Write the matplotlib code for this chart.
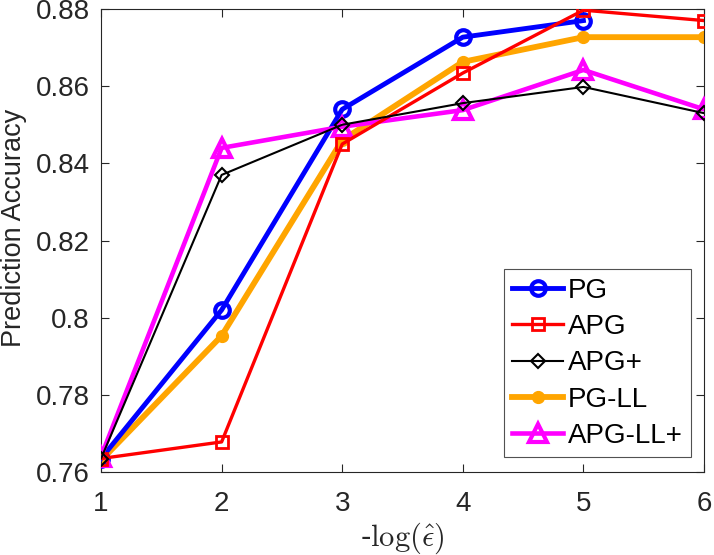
import matplotlib
matplotlib.use("Agg")
import matplotlib.pyplot as plt

x = [1, 2, 3, 4, 5, 6]
pg = [0.7635, 0.802, 0.854, 0.8727, 0.8770]
apg = [0.7635, 0.7678, 0.845, 0.8634, 0.8797, 0.8770]
apg_plus = [0.7635, 0.837, 0.850, 0.8556, 0.8598, 0.853]
pg_ll = [0.763, 0.7953, 0.846, 0.8663, 0.8727, 0.8727]
apg_ll_plus = [0.764, 0.844, 0.8495, 0.8538, 0.8642, 0.854]
yticks = [0.76, 0.78, 0.80, 0.82, 0.84, 0.86, 0.88]
ytick_labels = ['0.76', '0.78', '0.8', '0.82', '0.84', '0.86', '0.88']

plt.rcParams['font.family'] = ['Liberation Sans', 'DejaVu Sans']
plt.rcParams['mathtext.fontset'] = 'cm'

fig = plt.figure(figsize=(7.14, 5.55), dpi=100)
ax = fig.add_axes([0.1415, 0.1495, 0.8445, 0.8343])

ax.plot(x[:len(pg)], pg, color='blue', lw=3.5, marker='o', ms=10.5, mfc='none', mew=3, label='PG', zorder=3)
ax.plot(x, apg, color='red', lw=2.4, marker='s', ms=8, mfc='none', mew=2, label='APG', zorder=4)
ax.plot(x, apg_plus, color='black', lw=1.5, marker='D', ms=7, mfc='none', mew=1.5, label='APG+', zorder=5)
ax.plot(x, pg_ll, color='#FFA500', lw=4.2, marker='o', ms=8.5, mfc='#FFA500', mec='#FFA500', label='PG-LL', zorder=2)
ax.plot(x, apg_ll_plus, color='magenta', lw=3.3, marker='^', ms=12.5, mfc='none', mew=3, label='APG-LL+', zorder=3)

ax.set_xlim(1, 6)
ax.set_ylim(0.76, 0.88)
ax.set_xticks(x)
ax.set_yticks(yticks)
ax.set_yticklabels(ytick_labels)
ax.tick_params(direction='in', top=True, right=True, labelsize=20, length=6, width=0.8,
               color='#262626', labelcolor='#262626')
ax.tick_params(axis='x', pad=14)
ax.tick_params(axis='y', pad=8)
for s in ax.spines.values():
    s.set_color('#262626')
    s.set_linewidth(0.8)
ax.set_ylabel('Prediction Accuracy', fontsize=19.5, color='#262626')
ax.yaxis.set_label_coords(-0.145, 0.527)
ax.yaxis.label.set_verticalalignment('center')
ax.set_xlabel(r'-$\log(\hat{\epsilon})$', fontsize=22, family='serif', color='#262626')
ax.xaxis.set_label_coords(0.5, -0.1425)
ax.xaxis.label.set_verticalalignment('center')

leg = ax.legend(loc='lower right', fontsize=20, frameon=True, fancybox=False,
                edgecolor='#262626', borderpad=0.3, labelspacing=0.37, handlelength=1.85,
                handletextpad=0.15, borderaxespad=0, bbox_to_anchor=(0.978, 0.032))
leg.get_frame().set_linewidth(0.8)

fig.savefig('out.png', dpi=100)
